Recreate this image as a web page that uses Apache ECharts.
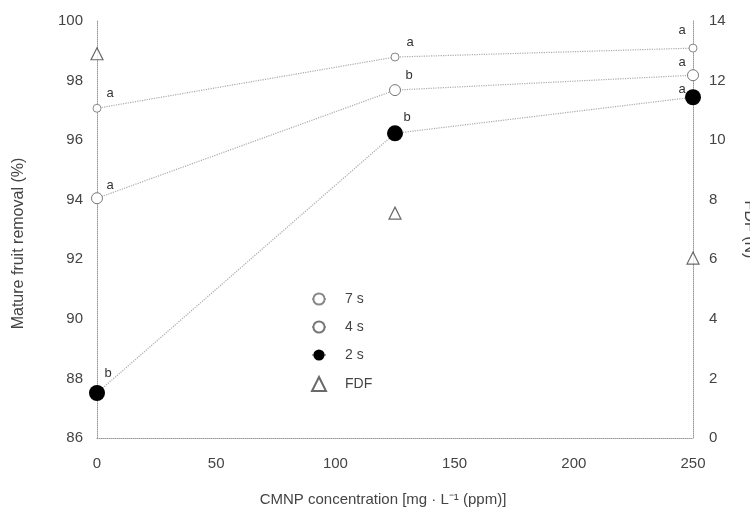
<!DOCTYPE html>
<html>
<head>
<meta charset="utf-8">
<script src="https://cdn.jsdelivr.net/npm/echarts@6/dist/echarts.min.js"></script>
<style>
html,body{margin:0;padding:0;background:#fff;}
#chart{width:750px;height:528px;}
</style>
</head>
<body>
<div id="chart"></div>
<script>
// Data
const concentrations = [0, 125, 250];
const removal7s = [97.07, 98.79, 99.09];
const removal4s = [94.05, 97.68, 98.18];
const removal2s = [87.51, 96.23, 97.44];
const fdfValues = [12.9, 7.55, 6.04];
const letters7s = ['a', 'a', 'a'];
const letters4s = ['a', 'b', 'a'];
const letters2s = ['b', 'b', 'a'];
const xTicks = [0, 50, 100, 150, 200, 250];
const seriesNames = ['7 s', '4 s', '2 s', 'FDF'];

const labelOffsets7 = [[13, -15], [15, -15], [-11, -18]];
const labelOffsets4 = [[13, -13], [14, -15], [-11, -13]];
const labelOffsets2 = [[11, -20], [12, -16], [-11, -8]];

function buildData(vals, letters, offsets) {
  return concentrations.map((c, i) => ({
    value: [c, vals[i]],
    label: { show: true, formatter: letters[i], offset: offsets[i] }
  }));
}

const font = 'Liberation Sans, Arial, sans-serif';
const textColor = '#444';
const axisLineStyle = { color: '#999', type: 'dotted', width: 1 };
const seriesLine = { color: '#aaa', type: 'dotted', width: 1.2 };
const letterLabel = { position: 'inside', color: '#333', fontSize: 13, fontFamily: font };

const chart = echarts.init(document.getElementById('chart'));
chart.setOption({
  animation: false,
  backgroundColor: '#fff',
  grid: { left: 97, right: 57, top: 21, bottom: 90, containLabel: false, outerBoundsMode: 'none' },
  legend: {
    orient: 'vertical',
    left: 306,
    top: 287,
    itemGap: 14,
    itemWidth: 14,
    itemHeight: 14,
    data: seriesNames,
    textStyle: { color: '#444', fontSize: 14, fontFamily: font, padding: [0, 0, 0, 14] }
  },
  xAxis: {
    type: 'value',
    min: 0, max: 250, interval: 50,
    name: 'CMNP concentration [mg · L⁻¹ (ppm)]',
    nameLocation: 'middle',
    nameGap: 54,
    nameTextStyle: { color: textColor, fontSize: 15, fontFamily: font, padding: [0, 24, 0, 0] },
    axisLine: { show: true, lineStyle: axisLineStyle },
    axisTick: { show: false },
    splitLine: { show: false },
    axisLabel: { color: textColor, fontSize: 15, fontFamily: font, margin: 18,
      formatter: v => xTicks.includes(v) ? String(v) : '' }
  },
  yAxis: [
    {
      type: 'value',
      min: 86, max: 100, interval: 2,
      name: 'Mature fruit removal (%)',
      nameLocation: 'middle',
      nameGap: 70,
      nameTextStyle: { color: textColor, fontSize: 16, fontFamily: font, padding: [0, 0, 0, -28] },
      axisLine: { show: true, lineStyle: axisLineStyle },
      axisTick: { show: false },
      splitLine: { show: false },
      axisLabel: { color: textColor, fontSize: 15, fontFamily: font, margin: 14 }
    },
    {
      type: 'value',
      position: 'right',
      min: 0, max: 14, interval: 2,
      name: 'FDF (N)',
      nameLocation: 'middle',
      nameGap: 48,
      nameRotate: -90,
      nameTextStyle: { color: textColor, fontSize: 16, fontFamily: font },
      axisLine: { show: true, lineStyle: axisLineStyle },
      axisTick: { show: false },
      splitLine: { show: false },
      axisLabel: { color: textColor, fontSize: 15, fontFamily: font, margin: 16 }
    }
  ],
  series: [
    {
      name: '7 s', type: 'line', yAxisIndex: 0, clip: false,
      symbol: 'circle', symbolSize: 8,
      itemStyle: { color: '#fff', borderColor: '#888', borderWidth: 1 },
      lineStyle: seriesLine,
      label: letterLabel,
      data: buildData(removal7s, letters7s, labelOffsets7),
      z: 3
    },
    {
      name: '4 s', type: 'line', yAxisIndex: 0, clip: false,
      symbol: 'circle', symbolSize: 11,
      itemStyle: { color: '#fff', borderColor: '#777', borderWidth: 1 },
      lineStyle: seriesLine,
      label: letterLabel,
      data: buildData(removal4s, letters4s, labelOffsets4),
      z: 3
    },
    {
      name: '2 s', type: 'line', yAxisIndex: 0, clip: false,
      symbol: 'circle', symbolSize: 16,
      itemStyle: { color: '#000', borderColor: '#000', borderWidth: 0 },
      lineStyle: seriesLine,
      label: letterLabel,
      data: buildData(removal2s, letters2s, labelOffsets2),
      z: 4
    },
    {
      name: 'FDF', type: 'scatter', yAxisIndex: 1, clip: false,
      symbol: 'triangle', symbolSize: 12,
      itemStyle: { color: '#fff', borderColor: '#444', borderWidth: 1.2 },
      data: concentrations.map((c, i) => [c, fdfValues[i]]),
      z: 5
    }
  ]
});
</script>
</body>
</html>
